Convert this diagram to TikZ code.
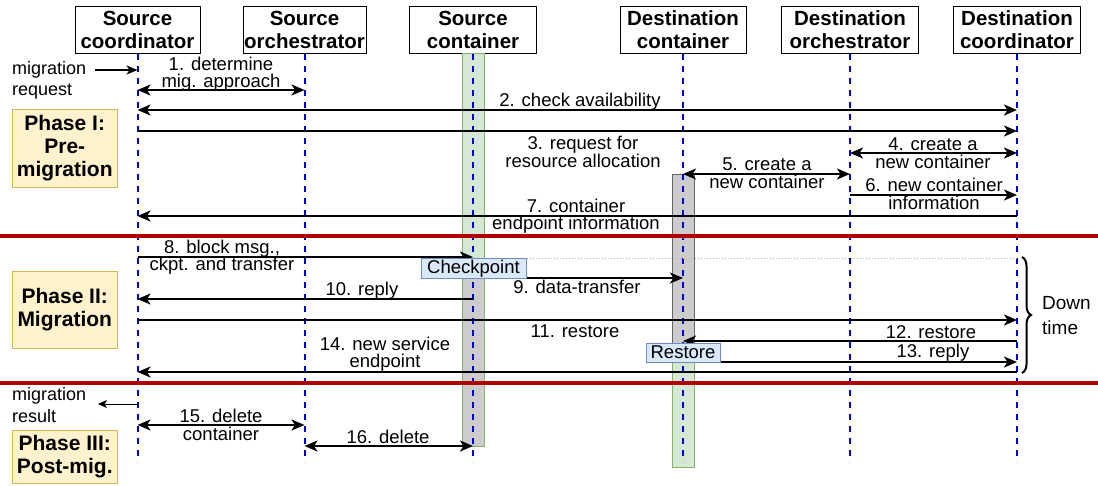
\documentclass[tikz,border=0pt]{standalone}
\usepackage{fontspec}
\setmainfont{Liberation Sans}
\usetikzlibrary{arrows.meta,decorations.pathreplacing}
\definecolor{lifeblue}{RGB}{0,0,204}
\definecolor{sepred}{RGB}{178,0,0}
\definecolor{phfill}{HTML}{FFF2CC}
\definecolor{phdraw}{HTML}{D6B656}
\definecolor{bxfill}{HTML}{DAE8FC}
\definecolor{bxdraw}{HTML}{6C8EBF}
\definecolor{grfill}{HTML}{D5E8D4}
\definecolor{grdraw}{HTML}{82B366}
\definecolor{gyfill}{HTML}{CCCCCC}
\definecolor{gydraw}{HTML}{666666}
\begin{document}
\begin{tikzpicture}[x=1pt,y=-1pt,
  hdr/.style={draw, line width=1pt, fill=white, font=\fontsize{20.5}{23}\selectfont\bfseries, align=center, minimum height=47pt, inner sep=0pt},
  lbl/.style={font=\fontsize{18.5}{17.5}\selectfont, align=center, inner sep=0pt},
  life/.style={draw=lifeblue, line width=2pt, dash pattern=on 6pt off 6pt},
  msg/.style={line width=2pt, >={Stealth[length=13pt,width=11pt,inset=3.5pt]}},
  thinmsg/.style={line width=1.5pt, >={Stealth[length=11pt,width=9pt,inset=3pt]}},
  phase/.style={draw=phdraw, fill=phfill, line width=1pt, font=\fontsize{21}{23}\selectfont\bfseries, align=center, minimum width=105pt, inner sep=0pt},
  bx/.style={draw=bxdraw, fill=bxfill, line width=1pt, font=\fontsize{18.5}{18}\selectfont, inner sep=0pt},
  sep/.style={draw=sepred, line width=4pt}
]
\useasboundingbox (0,0) rectangle (1098,485);

% headers
\node[hdr, minimum width=125pt] (hSC) at (137.5,30) {Source\\coordinator};
\node[hdr, minimum width=123pt] (hSO) at (304.5,30) {Source\\orchestrator};
\node[hdr, minimum width=127pt] (hSCt) at (473,30) {Source\\container};
\node[hdr, minimum width=126pt] (hDC) at (683,30) {Destination\\container};
\node[hdr, minimum width=137pt] (hDO) at (850,30) {Destination\\orchestrator};
\node[hdr, minimum width=127pt] (hDCo) at (1017,30) {Destination\\coordinator};

% activation bars
\fill[grfill] (462,53.5) rectangle (484,278);
\fill[gyfill] (462,278) rectangle (484,446);
\draw[grdraw, line width=1pt] (462,53.5) rectangle (484,446);
\fill[grfill] (672,362) rectangle (694,467);
\draw[grdraw, line width=1pt] (672,362) rectangle (694,467);
\fill[gyfill] (672,174) rectangle (694,362);
\draw[gydraw, line width=1pt] (672,174) rectangle (694,362);

% lifelines
\foreach \n in {SC,SO,SCt,DC,DO,DCo}{
  \coordinate (e\n) at (h\n |- 0,462);
  \draw[life] (h\n.south) -- (e\n);
}

% separators
\draw[sep] (0,236) -- (1098,236);
\draw[sep] (0,383) -- (1098,383);

% phase boxes
\node[phase, minimum height=78pt] (p1) at (64.75,148) {Phase I:\\Pre-\\migration};
\node[phase, minimum height=77pt] (p2) at (64.75,310) {Phase II:\\Migration};
\node[phase, minimum height=53pt] (p3) at (64.75,456.5) {Phase III:\\Post-mig.};

% external input / output
\node[lbl, align=left, anchor=west, font=\fontsize{18}{21}\selectfont] (mreq) at (12,80) {migration\\request};
\coordinate (mreqA) at (95,70);
\draw[thinmsg,->] (mreqA) -- (hSC |- mreqA);
\node[lbl, align=left, anchor=west, font=\fontsize{18}{22}\selectfont] (mres) at (12,405) {migration\\result};
\coordinate (mresA) at (98,404);
\draw[line width=1pt, >={Stealth[length=9pt,width=8pt,inset=2.5pt]}, ->] (hSC |- mresA) -- (mresA);

% messages
\draw[msg,<->] (hSC |- 0,90) -- (hSO |- 0,90);
\draw[msg,<->] (hSC |- 0,110) -- (hDCo |- 0,110);
\draw[msg,->] (hSC |- 0,131) -- (hDCo |- 0,131);
\draw[msg,<->] (hDO |- 0,153) -- (hDCo |- 0,153);
\draw[msg,<->] (hDC |- 0,174) -- (hDO |- 0,174);
\draw[msg,->] (hDO |- 0,195) -- (hDCo |- 0,195);
\draw[msg,->] (hDCo |- 0,216) -- (hSC |- 0,216);
\draw[msg,->] (hSC |- 0,257) -- (hSCt |- 0,257);
\draw[msg,->] (hSCt |- 0,278) -- (hDC |- 0,278);
\draw[msg,->] (hSCt |- 0,299) -- (hSC |- 0,299);
\draw[msg,->] (hSC |- 0,320) -- (hDCo |- 0,320);
\draw[msg,->] (hDCo |- 0,341) -- (hDC |- 0,341);
\draw[msg,->] (hDC |- 0,362) -- (hDCo |- 0,362);
\draw[msg,->] (hDCo |- 0,372) -- (hSC |- 0,372);
\draw[msg,<->] (hSC |- 0,425) -- (hSO |- 0,425);
\draw[msg,<->] (hSO |- 0,446) -- (hSCt |- 0,446);

% state boxes
\node[bx, minimum width=105pt, minimum height=20pt] (ckpt) at (473.5,268.5) {Checkpoint};
\node[bx, minimum width=74pt, minimum height=19pt] (rst) at (683,352.5) {Restore};
\draw[draw=black!30, line width=1pt, dotted] (ckpt.north east) -- (hDCo |- ckpt.north east);

% labels
\node[lbl] (l1) at (221,74) {1. determine\\mig. approach};
\node[lbl] (l2) at (580,102) {2. check availability};
\node[lbl] (l3) at (583,152) {3. request for\\resource allocation};
\node[lbl] (l4) at (933,153) {4. create a\\new container};
\node[lbl] (l5) at (767,173) {5. create a\\new container};
\node[lbl] (l6) at (934,194) {6. new container\\information};
\node[lbl] (l7) at (576,216) {7. container\\endpoint information};
\node[lbl] (l8) at (222,257) {8. block msg.,\\ckpt. and transfer};
\node[lbl] (l9) at (577,287) {9. data-transfer};
\node[lbl] (l10) at (362,291) {10. reply};
\node[lbl] (l11) at (575,331) {11. restore};
\node[lbl] (l12) at (931,332) {12. restore};
\node[lbl] (l13) at (933,353) {13. reply};
\node[lbl] (l14) at (385,354) {14. new service\\endpoint};
\node[lbl] (l15) at (221,425) {15. delete\\container};
\node[lbl] (l16) at (388,437) {16. delete};

% downtime brace
\coordinate (brT) at (1022,257);
\coordinate (brB) at (1022,373);
\draw[line width=2pt, decorate, decoration={brace, amplitude=9pt}] (brT) -- (brB);
\node[lbl, align=left, anchor=west, font=\fontsize{19}{25}\selectfont] (dt) at (1042,316) {Down\\time};
\end{tikzpicture}
\end{document}
